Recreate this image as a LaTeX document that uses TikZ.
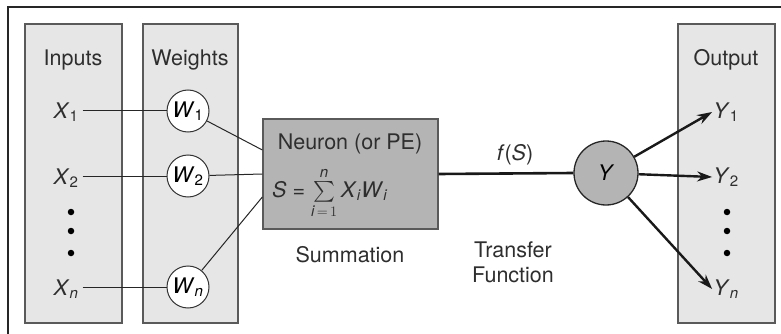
\documentclass[tikz,border=0pt]{standalone}
\usepackage{amsmath}
\usepackage{fontspec}
\setmainfont{TeX Gyre Heros}
\usetikzlibrary{arrows.meta,positioning}
\definecolor{annPanel}{HTML}{E6E6E7}
\definecolor{annEdge}{HTML}{5A5A5A}
\definecolor{annBox}{HTML}{B4B4B4}
\definecolor{annText}{HTML}{2E2E2E}
\tikzset{
  % Grey column behind inputs, weights and outputs.
  ann/panel/.style={
    draw=annEdge, fill=annPanel, line width=1.3pt, inner sep=0pt
  },
  % Weight circles: white, thin.
  ann/weight/.style={
    circle, draw=black!80, fill=white, line width=1pt, minimum size=42pt,
    inner sep=0pt, font=\annfont
  },
  % Labels in the usual text face.
  ann/label/.style={
    font=\annfont, text=annText, inner sep=1pt, align=center
  },
  % Thin wire, thick wire, output arrow.
  ann/wire/.style={draw=black!85, line width=1pt},
  ann/thick/.style={draw=black!90, line width=2.6pt},
  ann/arrow/.style={
    -{Stealth[length=15pt,width=10pt]}, draw=black!90, line width=2.4pt
  },
}
\newcommand{\annfont}{\fontsize{21.5}{25}\selectfont}
\newcommand{\vit}[1]{\textit{#1}}

\begin{document}
\begin{tikzpicture}[x=1pt,y=-1pt,
  dot/.style={circle, fill=black, minimum size=6.5pt, inner sep=0pt}]
  \useasboundingbox (0,0) rectangle (781,334);
  % outer frame, cropped at right and bottom
  \draw[line width=1.3pt, draw=black!85] (8,334) -- (8,7) -- (781,7);
  % columns
  \node[ann/panel, minimum width=97pt, minimum height=299pt] (inpanel) at (73.5,173.5) {};
  \node[ann/panel, minimum width=95pt, minimum height=299pt] (wpanel) at (190.5,173.5) {};
  \node[ann/panel, minimum width=97pt, minimum height=299pt] (outpanel) at (726.5,173.5) {};
  \node[ann/label] (inputs) at (73,60) {Inputs};
  \node[ann/label] (weights) at (190,60) {Weights};
  \node[ann/label] (output) at (726,60) {Output};
  % inputs and weights
  \node[ann/label] (x1) at (66,112) {\vit{X}\textsubscript{1}};
  \node[ann/label] (x2) at (66,178) {\vit{X}\textsubscript{2}};
  \node[ann/label] (xn) at (66,289) {\vit{X}\textsubscript{\vit{n}}};
  \node[ann/weight] (w1) at (188,111) {\vit{W}\textsubscript{1}};
  \node[ann/weight] (w2) at (188,176) {\vit{W}\textsubscript{2}};
  \node[ann/weight] (wn) at (188,287) {\vit{W}\textsubscript{\vit{n}}};
  \foreach \y/\n in {212/a,231/b,253/c}{
    \node[dot] (xdot\n) at (71,\y) {};
    \node[dot] (ydot\n) at (727,\y) {};
  }
  \draw[ann/wire] ([xshift=3pt]x1.east |- w1.west) -- (w1.west);
  \draw[ann/wire] ([xshift=3pt]x2.east |- w2.west) -- (w2.west);
  \draw[ann/wire] ([xshift=3pt]xn.east |- wn.west) -- (wn.west);
  % summation
  \node[draw=annEdge, fill=annBox, line width=1.3pt, minimum width=175pt,
        minimum height=110pt, inner sep=0pt] (neuron) at (350.5,174) {};
  \node[ann/label, inner sep=0pt] (ntitle) at (350,144) {Neuron (or PE)};
  \node[ann/label, anchor=west, inner sep=0pt] (nsum) at (272,193)
       {\vit{S} = $\textstyle\sum\limits_{\vit{i}\,=\,1}^{\vit{n}}$\,\vit{X}\textsubscript{\vit{i}}\vit{W}\textsubscript{\vit{i}}};
  \draw[ann/wire] (w1) -- ([yshift=24pt]neuron.west);
  \draw[ann/wire] (w2) -- (neuron.west);
  \draw[ann/wire] (wn) -- ([yshift=-23pt]neuron.west);
  \node[ann/label] (summ) at (350,255) {Summation};
  % transfer
  \node[circle, draw=black!85, fill=annBox, line width=1.3pt, minimum size=64pt,
        inner sep=0pt, font=\annfont] (yc) at (606,173) {\vit{Y}};
  \draw[ann/thick] (neuron.east) -- (yc.west);
  \node[ann/label] (fs) at (515,155) {\vit{f}(\vit{S})};
  \node[ann/label] (transfer) at (513,262) {Transfer\\Function};
  % outputs
  \node[ann/label] (y1) at (726,112) {\vit{Y}\textsubscript{1}};
  \node[ann/label] (y2) at (726,177) {\vit{Y}\textsubscript{2}};
  \node[ann/label] (yn) at (726,289) {\vit{Y}\textsubscript{\vit{n}}};
  \draw[ann/arrow] (yc) -- (y1.west);
  \draw[ann/arrow] (yc) -- (y2.west);
  \draw[ann/arrow] (yc) -- (yn.west);
\end{tikzpicture}
\end{document}
